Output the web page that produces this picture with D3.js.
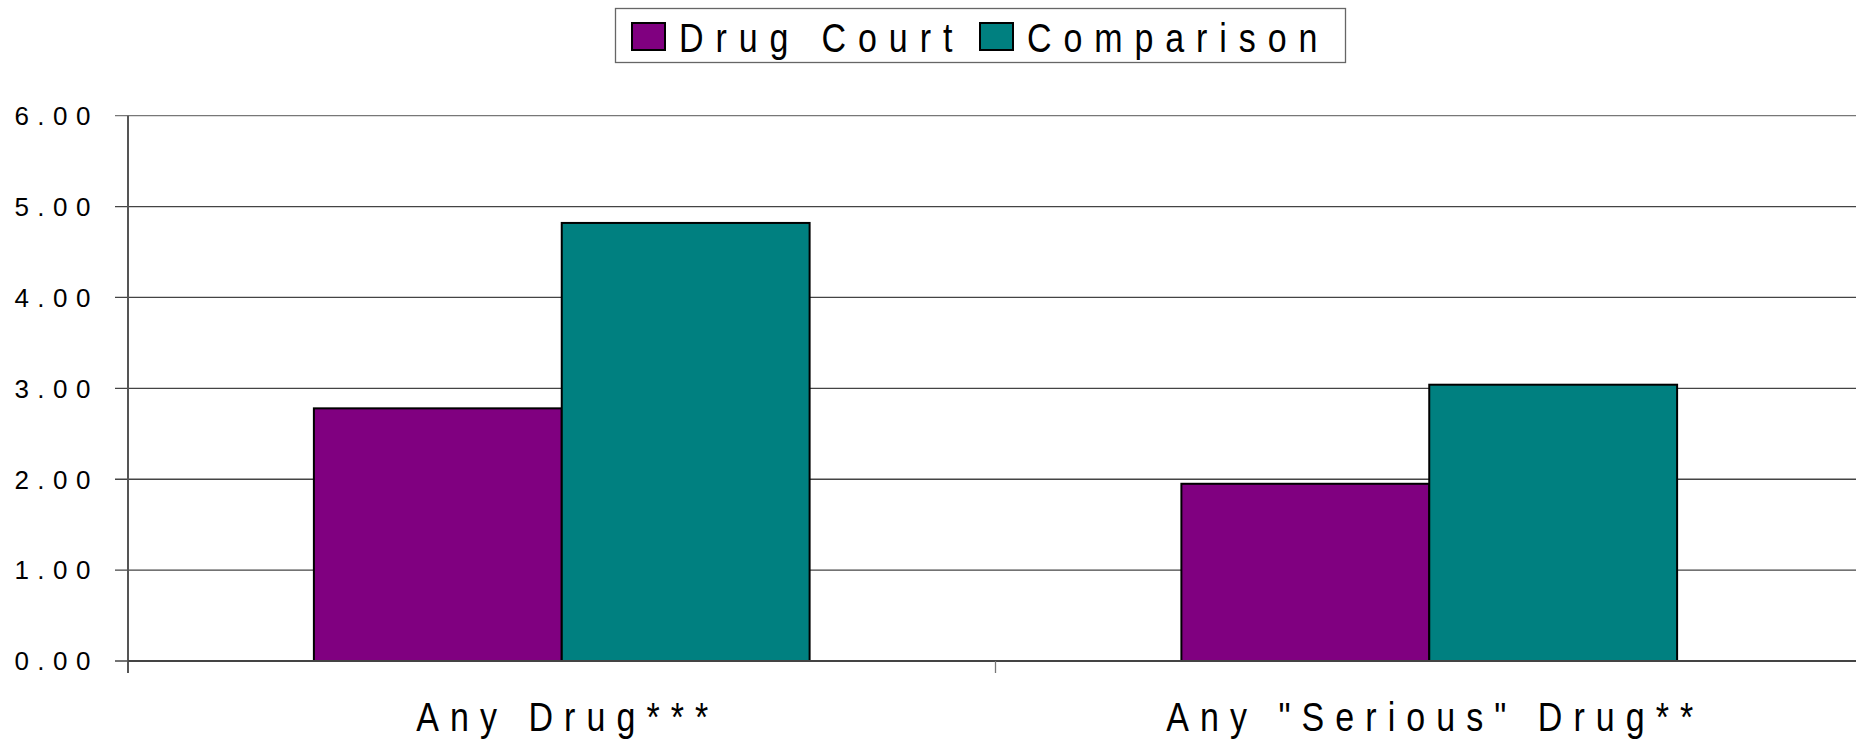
<!DOCTYPE html>
<html>
<head>
<meta charset="utf-8">
<script src="https://cdn.jsdelivr.net/npm/d3@7"></script>
<style>
  body { margin: 0; background: #fff; }
  svg { display: block; font-family: "Liberation Sans", Arial, sans-serif; }
</style>
</head>
<body>
<div id="chart"></div>
<script>
// data
var categories = ['Any Drug***', 'Any "Serious" Drug**'];
var series = ['Drug Court', 'Comparison'];
var drugCourt = [2.78, 1.95];
var comparison = [4.82, 3.04];
var yTicks = [0, 1, 2, 3, 4, 5, 6];
var colors = ['#800080', '#008080'];

var width = 1856, height = 740;
var plotLeft = 128, plotRight = 1863, plotTop = 115.7, plotBottom = 661;

var rows = categories.map(function (c, i) {
    return { cat: c, values: [drugCourt[i], comparison[i]] };
});

var x = d3.scaleBand()
    .domain(categories)
    .range([plotLeft, plotRight]);

var xs = d3.scaleBand()
    .domain(series)
    .range([0, x.bandwidth()])
    .paddingOuter(0.75);

var y = d3.scaleLinear()
    .domain([0, 6])
    .range([plotBottom, plotTop]);

var svg = d3.select('#chart')
    .append('svg')
    .attr('width', width)
    .attr('height', height);

// gridlines
svg.append('g')
    .selectAll('line')
    .data(yTicks)
    .enter()
    .append('line')
    .attr('x1', plotLeft - 13)
    .attr('x2', width)
    .attr('y1', function (d) { return y(d); })
    .attr('y2', function (d) { return y(d); })
    .attr('stroke', function (d) { return d === 6 ? '#777' : '#444'; })
    .attr('stroke-width', 1.3);

// tick labels
svg.append('g')
    .selectAll('text')
    .data(yTicks)
    .enter()
    .append('text')
    .attr('x', 99)
    .attr('y', function (d) { return y(d); })
    .attr('dy', '0.36em')
    .attr('text-anchor', 'end')
    .style('font-size', '26px')
    .style('letter-spacing', '8.5px')
    .attr('fill', '#000')
    .text(d3.format('.2f'));

// bars
var groups = svg.append('g')
    .selectAll('g')
    .data(rows)
    .enter()
    .append('g')
    .attr('transform', function (d) { return 'translate(' + x(d.cat) + ',0)'; });

groups.selectAll('rect')
    .data(function (d) { return d.values.map(function (v, i) { return { key: series[i], value: v, i: i }; }); })
    .enter()
    .append('rect')
    .attr('x', function (d) { return xs(d.key); })
    .attr('y', function (d) { return y(d.value); })
    .attr('width', xs.bandwidth())
    .attr('height', function (d) { return y(0) - y(d.value); })
    .attr('fill', function (d) { return colors[d.i]; })
    .attr('stroke', '#000')
    .attr('stroke-width', 2);

// axis lines
svg.append('line')
    .attr('x1', plotLeft).attr('x2', plotLeft)
    .attr('y1', plotTop).attr('y2', plotBottom + 12)
    .attr('stroke', '#555')
    .attr('stroke-width', 2);

svg.append('line')
    .attr('x1', plotLeft).attr('x2', width)
    .attr('y1', y(0)).attr('y2', y(0))
    .attr('stroke', '#444')
    .attr('stroke-width', 2);

// category separator ticks
svg.append('g')
    .selectAll('line')
    .data(categories.slice(1))
    .enter()
    .append('line')
    .attr('x1', function (d) { return x(d); })
    .attr('x2', function (d) { return x(d); })
    .attr('y1', y(0))
    .attr('y2', y(0) + 12)
    .attr('stroke', '#777')
    .attr('stroke-width', 1.3);

// category labels (narrow glyphs, wide spacing)
var squeeze = 0.85;
svg.append('g')
    .selectAll('text')
    .data(categories)
    .enter()
    .append('text')
    .attr('transform', function (d) {
        return 'translate(' + (x(d) + x.bandwidth() / 2 + 6) + ',731) scale(' + squeeze + ',1)';
    })
    .attr('text-anchor', 'middle')
    .style('font-size', '40px')
    .style('letter-spacing', '13px')
    .attr('fill', '#000')
    .text(function (d) { return d; });

// legend
var legend = svg.append('g');

legend.append('rect')
    .attr('x', 615.5)
    .attr('y', 8.5)
    .attr('width', 730)
    .attr('height', 54)
    .attr('fill', '#fff')
    .attr('stroke', '#666')
    .attr('stroke-width', 1.3);

var legendX = [632, 980];
var items = legend.selectAll('g.item')
    .data(series)
    .enter()
    .append('g')
    .attr('class', 'item')
    .attr('transform', function (d, i) { return 'translate(' + legendX[i] + ',0)'; });

items.append('rect')
    .attr('x', 0)
    .attr('y', 23)
    .attr('width', 33)
    .attr('height', 27)
    .attr('fill', function (d, i) { return colors[i]; })
    .attr('stroke', '#000')
    .attr('stroke-width', 2);

items.append('text')
    .attr('transform', 'translate(47,52) scale(' + squeeze + ',1)')
    .style('font-size', '40px')
    .style('letter-spacing', '14px')
    .attr('fill', '#000')
    .text(function (d) { return d; });
</script>
</body>
</html>
